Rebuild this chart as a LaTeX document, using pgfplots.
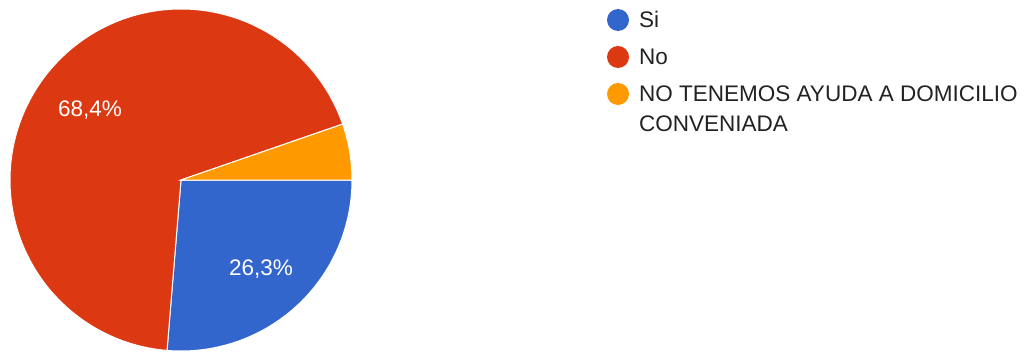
\documentclass[border=0pt]{standalone}
\usepackage{pgfplots}
\pgfplotsset{compat=1.18}
\usepackage{fontspec}
\setmainfont{Liberation Sans}
\definecolor{cSi}{HTML}{3366CC}
\definecolor{cNo}{HTML}{DC3912}
\definecolor{cNT}{HTML}{FF9900}
\definecolor{txt}{HTML}{222222}
\begin{document}
\begin{tikzpicture}
% data (percent)
\pgfmathsetmacro{\pSi}{26.3}
\pgfmathsetmacro{\pNo}{68.4}
\pgfmathsetmacro{\pNT}{5.3}
\pgfmathsetmacro{\aA}{0}
\pgfmathsetmacro{\aB}{-\pSi*3.6}
\pgfmathsetmacro{\aC}{\aB-\pNo*3.6}
\pgfmathsetmacro{\aD}{\aC-\pNT*3.6}
\def\cx{181}\def\cy{172}\def\r{171}
\begin{axis}[
  x=1bp, y=1bp, xmin=0, xmax=1031, ymin=0, ymax=352,
  hide axis, clip=false, scale only axis,
  legend style={at={(axis cs:607,343)}, anchor=north west, draw=none, fill=none,
    inner sep=0pt, outer sep=0pt, row sep=14.7bp,
    font=\fontsize{22.6}{29.5}\selectfont, text=txt,
    cells={anchor=base west, inner sep=0pt, text height=16bp, text depth=0bp},
    /tikz/every odd column/.style={column sep=8bp}},
  legend image code/.code={\fill[#1, draw=none] (0bp,7.8bp) circle (11bp);},
]
\path (axis cs:0,0) rectangle (axis cs:1031,352);
\addplot[fill=cSi, draw=white, line width=1bp, domain=\aB:\aA, samples=120, variable=\t]
  ({\cx+\r*cos(\t)},{\cy+\r*sin(\t)}) -- (axis cs:\cx,\cy) -- cycle;
\addlegendentry{Si}
\addplot[fill=cNo, draw=white, line width=1bp, domain=\aC:\aB, samples=240, variable=\t]
  ({\cx+\r*cos(\t)},{\cy+\r*sin(\t)}) -- (axis cs:\cx,\cy) -- cycle;
\addlegendentry{No}
\addplot[fill=cNT, draw=white, line width=1bp, domain=\aD:\aC, samples=40, variable=\t]
  ({\cx+\r*cos(\t)},{\cy+\r*sin(\t)}) -- (axis cs:\cx,\cy) -- cycle;
\addlegendentry{\begin{tabular}[t]{@{}l@{}}NO TENEMOS AYUDA A DOMICILIO\\CONVENIADA\end{tabular}}
\node[anchor=base, text=white, inner sep=0pt, font=\fontsize{22.6}{26}\selectfont] at (axis cs:90,235.3) {68,4\%};
\node[anchor=base, text=white, inner sep=0pt, font=\fontsize{22.6}{26}\selectfont] at (axis cs:261,77) {26,3\%};
\end{axis}
\end{tikzpicture}
\end{document}
